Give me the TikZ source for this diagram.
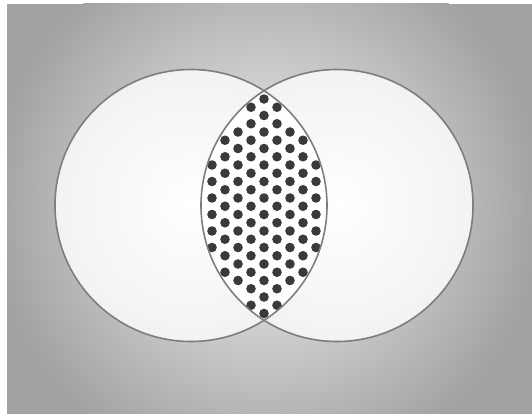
\documentclass[tikz,border=0pt]{standalone}
\definecolor{bgin}{RGB}{242,242,242}
\definecolor{bgout}{RGB}{163,163,163}
\definecolor{ringgray}{RGB}{125,125,125}
\definecolor{dotgray}{RGB}{58,58,58}
\begin{document}
\begin{tikzpicture}[x=1pt, y=-1pt,
    ring/.style={draw=ringgray, line width=1.6pt},
    disc/.style={inner color=white, outer color=white!95!black},
    dot/.style={fill=dotgray}]
  \useasboundingbox (0,0) rectangle (532,414);
  % background
  \begin{scope}
    \clip (7,4) rectangle (532,414);
    \fill[bgout] (7,4) rectangle (532,414);
    \shade[inner color=bgin, outer color=bgout] (266,205) circle (272pt);
  \end{scope}

  \coordinate (lc) at (191,205.5);
  \coordinate (rc) at (337,205.5);

  \shade[disc] (lc) circle (136pt);
  \shade[disc] (rc) circle (136pt);

  % lens
  \begin{scope}
    \clip (lc) circle (136pt);
    \fill[white] (rc) circle (136pt);
  \end{scope}

  % dots
  \foreach \k in {-5,...,5}
    \foreach \j in {-1,...,14} {
      \pgfmathsetmacro\dx{264+13*\k}
      \pgfmathsetmacro\dy{99+16.5*\j+8.25*mod(abs(\k),2)}
      \pgfmathtruncatemacro\inside{(veclen(\dx-191,\dy-205.5)<132.5)&&(veclen(\dx-337,\dy-205.5)<132.5)}
      \ifnum\inside=1 \fill[dot] (\dx,\dy) circle (4.8pt); \fi
    }

  \draw[ring] (lc) circle (136pt);
  \draw[ring] (rc) circle (136pt);
\end{tikzpicture}
\end{document}
